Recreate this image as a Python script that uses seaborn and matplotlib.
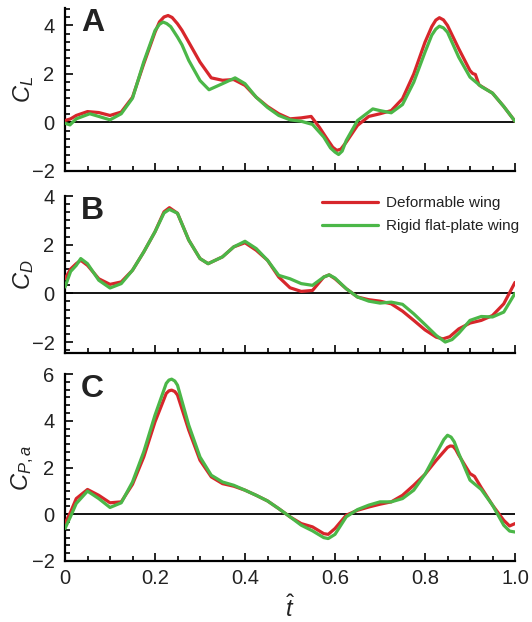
import matplotlib
matplotlib.use("Agg")
import matplotlib.pyplot as plt
from matplotlib.ticker import MultipleLocator
import pandas as pd
import seaborn as sns

# ---------------- data ----------------
series_names = ["Deformable wing", "Rigid flat-plate wing"]
colors = ["#d7262b", "#4bb748"]

# Panel A : C_L
tA_def = [0, 0.0125, 0.025, 0.05, 0.075, 0.1, 0.125, 0.15, 0.175, 0.2, 0.21, 0.22, 0.229, 0.238,
          0.25, 0.26, 0.275, 0.3, 0.325, 0.35, 0.375, 0.4, 0.425, 0.45, 0.475, 0.5, 0.525, 0.547,
          0.565, 0.585, 0.595, 0.604, 0.613, 0.625, 0.65, 0.675, 0.7, 0.725, 0.75, 0.775, 0.8,
          0.815, 0.824, 0.832, 0.841, 0.85, 0.875, 0.9, 0.906, 0.912, 0.92, 0.95, 0.975, 1.0]
cl_def = [0.08, 0.15, 0.29, 0.45, 0.41, 0.29, 0.43, 1.04, 2.42, 3.72, 4.15, 4.35, 4.41, 4.33,
          4.07, 3.8, 3.31, 2.49, 1.84, 1.74, 1.77, 1.53, 1.04, 0.66, 0.36, 0.15, 0.19, 0.25,
          -0.19, -0.75, -1.02, -1.15, -1.1, -0.81, -0.12, 0.25, 0.36, 0.49, 0.98, 2.0, 3.31,
          3.95, 4.22, 4.32, 4.23, 4.0, 3.04, 2.14, 2.02, 1.98, 1.55, 1.21, 0.66, 0.05]
tA_rig = [0, 0.011, 0.025, 0.055, 0.075, 0.1, 0.125, 0.15, 0.175, 0.2, 0.21, 0.218, 0.226, 0.235,
          0.25, 0.26, 0.275, 0.3, 0.32, 0.35, 0.378, 0.4, 0.425, 0.45, 0.475, 0.5, 0.525, 0.55,
          0.575, 0.59, 0.6, 0.608, 0.616, 0.625, 0.65, 0.684, 0.7, 0.725, 0.75, 0.775, 0.8,
          0.815, 0.824, 0.832, 0.841, 0.85, 0.875, 0.9, 0.925, 0.95, 0.975, 1.0]
cl_rig = [-0.03, -0.1, 0.15, 0.36, 0.25, 0.11, 0.36, 1.0, 2.5, 3.79, 4.05, 4.14, 4.08, 3.95,
          3.52, 3.2, 2.56, 1.73, 1.35, 1.6, 1.84, 1.6, 1.04, 0.62, 0.29, 0.11, 0.05, -0.08,
          -0.6, -1.05, -1.22, -1.32, -1.18, -0.74, 0.08, 0.56, 0.49, 0.4, 0.74, 1.66, 2.9,
          3.6, 3.85, 3.97, 3.9, 3.72, 2.69, 1.87, 1.48, 1.21, 0.66, 0.05]

# Panel B : C_D
tB_def = [0, 0.0125, 0.025, 0.035, 0.05, 0.075, 0.1, 0.125, 0.15, 0.175, 0.2, 0.22, 0.232, 0.25,
          0.275, 0.3, 0.318, 0.35, 0.375, 0.4, 0.425, 0.45, 0.475, 0.5, 0.525, 0.55, 0.575, 0.587,
          0.6, 0.625, 0.65, 0.675, 0.7, 0.725, 0.75, 0.775, 0.8, 0.825, 0.84, 0.855, 0.875, 0.9,
          0.925, 0.95, 0.975, 1.0]
cd_def = [0.6, 1.0, 1.22, 1.36, 1.15, 0.6, 0.37, 0.47, 0.95, 1.7, 2.53, 3.35, 3.52, 3.29,
          2.19, 1.43, 1.22, 1.5, 1.91, 2.08, 1.77, 1.36, 0.67, 0.23, 0.08, 0.12, 0.67, 0.76,
          0.6, 0.19, -0.15, -0.26, -0.32, -0.43, -0.73, -1.11, -1.5, -1.8, -1.87, -1.78, -1.46, -1.22,
          -1.11, -0.91, -0.43, 0.45]
tB_rig = [0, 0.0125, 0.025, 0.035, 0.05, 0.075, 0.1, 0.125, 0.15, 0.175, 0.2, 0.22, 0.232, 0.25,
          0.275, 0.3, 0.318, 0.35, 0.375, 0.4, 0.425, 0.45, 0.475, 0.5, 0.525, 0.55, 0.575, 0.587,
          0.6, 0.625, 0.65, 0.675, 0.7, 0.725, 0.75, 0.775, 0.8, 0.825, 0.845, 0.86, 0.875, 0.9,
          0.925, 0.95, 0.975, 1.0]
cd_rig = [0.26, 0.9, 1.15, 1.43, 1.22, 0.54, 0.22, 0.4, 0.95, 1.7, 2.53, 3.3, 3.45, 3.29,
          2.19, 1.43, 1.22, 1.5, 1.91, 2.14, 1.84, 1.36, 0.74, 0.6, 0.4, 0.33, 0.67, 0.76,
          0.63, 0.19, -0.15, -0.32, -0.4, -0.36, -0.45, -0.84, -1.28, -1.73, -2.0, -1.9, -1.64, -1.11,
          -0.95, -0.97, -0.77, 0.0]

# Panel C : C_P,a
tC_def = [0, 0.0125, 0.025, 0.05, 0.075, 0.1, 0.125, 0.15, 0.175, 0.2, 0.225, 0.231, 0.237, 0.244,
          0.25, 0.275, 0.3, 0.325, 0.35, 0.375, 0.4, 0.425, 0.45, 0.475, 0.5, 0.525, 0.55, 0.575,
          0.585, 0.6, 0.625, 0.65, 0.675, 0.7, 0.725, 0.75, 0.775, 0.8, 0.825, 0.85, 0.856, 0.862,
          0.868, 0.875, 0.9, 0.91, 0.925, 0.95, 0.975, 0.988, 1.0]
cp_def = [-0.4, 0.1, 0.67, 1.06, 0.81, 0.49, 0.53, 1.28, 2.45, 3.95, 5.17, 5.28, 5.31, 5.25,
          5.1, 3.6, 2.31, 1.6, 1.31, 1.2, 1.03, 0.81, 0.57, 0.24, -0.11, -0.4, -0.54, -0.83,
          -0.86, -0.61, -0.04, 0.17, 0.31, 0.43, 0.53, 0.81, 1.24, 1.71, 2.31, 2.86, 2.92, 2.91,
          2.78, 2.53, 1.74, 1.62, 1.14, 0.39, -0.26, -0.5, -0.4]
tC_rig = [0, 0.0125, 0.025, 0.05, 0.075, 0.1, 0.125, 0.15, 0.175, 0.2, 0.225, 0.231, 0.237, 0.244,
          0.25, 0.275, 0.3, 0.325, 0.35, 0.375, 0.4, 0.425, 0.45, 0.475, 0.5, 0.525, 0.55, 0.575,
          0.585, 0.6, 0.625, 0.65, 0.675, 0.7, 0.725, 0.75, 0.775, 0.8, 0.825, 0.842, 0.85, 0.858,
          0.865, 0.875, 0.9, 0.925, 0.95, 0.975, 0.988, 1.0]
cp_rig = [-0.61, -0.09, 0.46, 0.99, 0.67, 0.29, 0.49, 1.38, 2.67, 4.24, 5.6, 5.74, 5.78, 5.7,
          5.52, 3.81, 2.45, 1.67, 1.38, 1.24, 1.03, 0.81, 0.57, 0.24, -0.11, -0.47, -0.71, -1.0,
          -1.04, -0.86, -0.11, 0.2, 0.39, 0.53, 0.53, 0.67, 1.03, 1.71, 2.6, 3.2, 3.38, 3.3,
          3.1, 2.6, 1.46, 1.06, 0.39, -0.47, -0.72, -0.76]

panel_letters = ["A", "B", "C"]
ylabels = [r"$C_L$", r"$C_D$", r"$C_{P,a}$"]
yticks = [[-2, 0, 2, 4], [-2, 0, 2, 4], [-2, 0, 2, 4, 6]]
xticks = [0, 0.2, 0.4, 0.6, 0.8, 1.0]
xticklabels = ["0", "0.2", "0.4", "0.6", "0.8", "1.0"]

# ---------------- style ----------------
sns.set_style("ticks")
plt.rcParams["font.family"] = ["Liberation Sans", "DejaVu Sans"]
plt.rcParams["mathtext.fontset"] = "custom"
plt.rcParams["mathtext.it"] = "Liberation Sans:italic"
plt.rcParams["mathtext.rm"] = "Liberation Sans"
plt.rcParams["axes.unicode_minus"] = True

txt = "#222222"
fig = plt.figure(figsize=(5.32, 6.22), dpi=100)
W = 532.0
H = 622.0
left = 65 / W
width = 450 / W
boxes = [(8, 171), (196, 353), (374, 561)]
ylims = [(-2, 4.72), (-2.45, 4), (-2, 6)]


def frame(t, y, name):
    return pd.DataFrame({"t": t, "val": y, "series": name})


data = [
    pd.concat([frame(tA_def, cl_def, series_names[0]), frame(tA_rig, cl_rig, series_names[1])]),
    pd.concat([frame(tB_def, cd_def, series_names[0]), frame(tB_rig, cd_rig, series_names[1])]),
    pd.concat([frame(tC_def, cp_def, series_names[0]), frame(tC_rig, cp_rig, series_names[1])]),
]

axes = []
for i, (top, bot) in enumerate(boxes):
    ax = fig.add_axes([left, 1 - bot / H, width, (bot - top) / H])
    axes.append(ax)
    ax.axhline(0, color="black", lw=1.3, zorder=1)
    sns.lineplot(data=data[i], x="t", y="val", hue="series", hue_order=series_names,
                 palette=colors, linewidth=2.3, ax=ax, legend=(i == 1), sort=False,
                 estimator=None, zorder=3)
    for ln in ax.get_lines():
        ln.set_solid_joinstyle("round")
        ln.set_solid_capstyle("round")
    ax.set_xlim(0, 1.0)
    ax.set_ylim(*ylims[i])
    ax.set_yticks(yticks[i])
    ax.set_xticks(xticks)
    ax.xaxis.set_minor_locator(MultipleLocator(0.05))
    ax.yaxis.set_minor_locator(MultipleLocator(1 / 3))
    ax.tick_params(which="both", direction="in", colors="black", labelcolor=txt,
                   labelsize=14.5, width=1.2)
    ax.tick_params(which="major", length=6)
    ax.tick_params(which="minor", length=3.5)
    ax.tick_params(axis="y", pad=7.5)
    ax.tick_params(axis="x", pad=6)
    for s in ["top", "right"]:
        ax.spines[s].set_visible(False)
    for s in ["left", "bottom"]:
        ax.spines[s].set_linewidth(1.6)
        ax.spines[s].set_color("black")
    ax.set_ylabel(ylabels[i], fontsize=17, color=txt, labelpad=-3)
    ax.text(0.035, 1.0, panel_letters[i], transform=ax.transAxes, fontsize=23,
            fontweight="bold", color=txt, va="top", ha="left")
    if i < 2:
        ax.set_xlabel("")
        ax.set_xticklabels([])
    else:
        ax.set_xticklabels(xticklabels)
        ax.set_xlabel(r"$\hat{t}$", fontsize=17, color=txt, labelpad=5)

leg = axes[1].get_legend()
if leg is not None:
    leg.remove()
handles, labels = axes[1].get_legend_handles_labels()
axes[1].legend(handles, labels, loc="upper left", bbox_to_anchor=(0.57, 1.0),
               frameon=False, fontsize=11, handlelength=3.7, handletextpad=0.55,
               borderpad=0, borderaxespad=0, labelspacing=0.6, labelcolor=txt)
for ln in axes[1].get_legend().get_lines():
    ln.set_linewidth(2.3)

fig.savefig("out.png", dpi=100)
